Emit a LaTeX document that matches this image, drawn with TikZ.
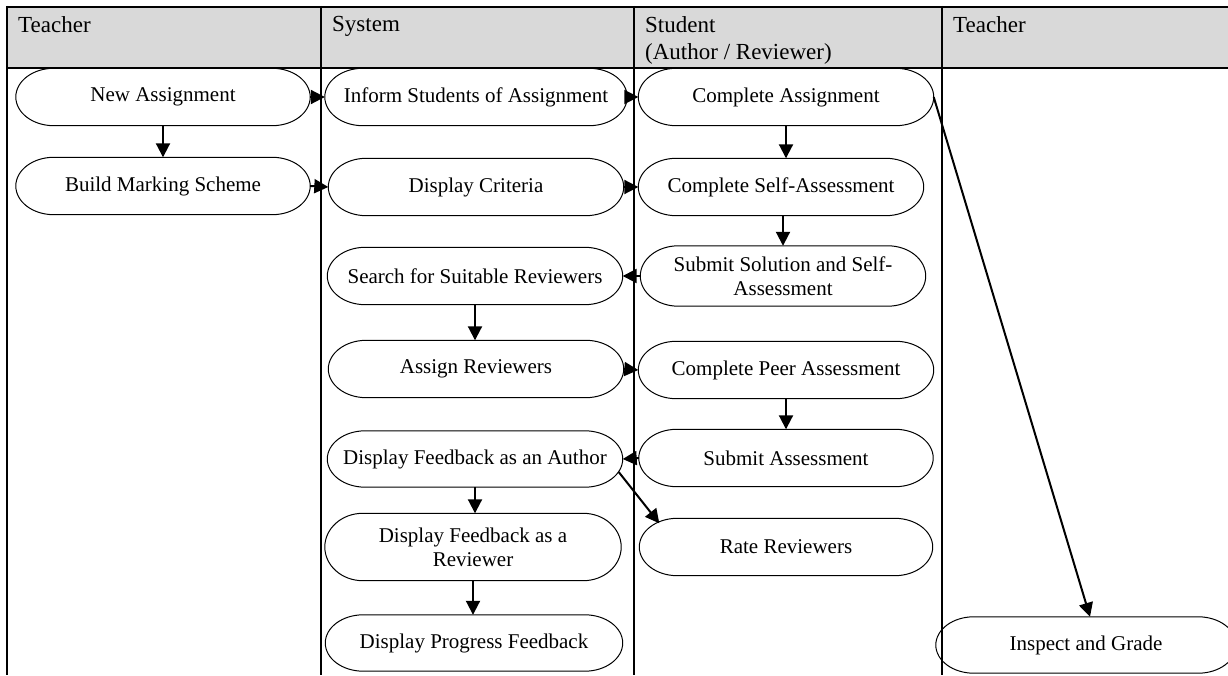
\documentclass[tikz,border=0pt]{standalone}
\usepackage{fontspec}
\setmainfont{Liberation Serif}
\usetikzlibrary{arrows.meta,calc}
\begin{document}
\begin{tikzpicture}[x=1pt,y=1pt,
  stagebox/.style={rectangle, inner sep=0pt, align=center,
    font=\fontsize{21}{24}\selectfont},
  flow/.style={line width=2pt, -{Triangle[length=14pt,width=14pt]}},
  outline/.style={line width=1pt},
  lane/.style={line width=2pt},
  heading/.style={anchor=north west, inner sep=0pt, align=left,
    font=\fontsize{23}{27}\selectfont}]
\useasboundingbox (0,0) rectangle (1228,675);
\clip (0,0) rectangle (1228,675);

% header band of the swimlanes
\fill[gray!30] (7,668) rectangle (1228,607);
\draw[line width=2.5pt] (7,668) -- (1228,668);
\draw[line width=1.5pt] (7,607) -- (1228,607);
\foreach \lx in {7,321,634,942}
  \draw[lane] (\lx,669) -- (\lx,0);

\node[heading] (h1) at (18,659) {Teacher};
\node[heading] (h2) at (332,659) {System};
\node[heading] (h3) at (645,659) {Student\\(Author / Reviewer)};
\node[heading] (h4) at (953,659) {Teacher};

% activities (centre, size)
\node[stagebox, minimum width=294, minimum height=57] (na)  at (163,578) {New Assignment};
\node[stagebox, minimum width=294, minimum height=57] (bms) at (163,489) {Build Marking Scheme};

\node[stagebox, minimum width=302, minimum height=57] (isa) at (476,578) {Inform Students of Assignment};
\node[stagebox, minimum width=295, minimum height=57] (dc)  at (476,488) {Display Criteria};
\node[stagebox, minimum width=295, minimum height=57] (ssr) at (475,399) {Search for Suitable Reviewers};
\node[stagebox, minimum width=295, minimum height=57] (ar)  at (476,306) {Assign Reviewers};
\node[stagebox, minimum width=295, minimum height=56] (dfa) at (475,216) {Display Feedback as an Author};
\node[stagebox, minimum width=296, minimum height=67] (dfr) at (473,128) {Display Feedback as a\\Reviewer};
\node[stagebox, minimum width=297, minimum height=56] (dpf) at (474,32)  {Display Progress Feedback};

\node[stagebox, minimum width=295, minimum height=57] (ca)  at (786,578) {Complete Assignment};
\node[stagebox, minimum width=285, minimum height=57] (csa) at (781,488) {Complete Self-Assessment};
\node[stagebox, minimum width=285, minimum height=60] (sub) at (783,399) {Submit Solution and Self-\\Assessment};
\node[stagebox, minimum width=295, minimum height=57] (cpa) at (786,305) {Complete Peer Assessment};
\node[stagebox, minimum width=294, minimum height=57] (sa)  at (786,217) {Submit Assessment};
\node[stagebox, minimum width=293, minimum height=57] (rr)  at (786,128) {Rate Reviewers};

\node[stagebox, minimum width=300, minimum height=56] (ig)  at (1086,30) {Inspect and Grade};

% stadium outlines with elliptical ends
\def\rx{38pt}
\foreach \nd in {na,bms,isa,dc,ssr,ar,dfa,dfr,dpf,ca,csa,sub,cpa,sa,rr,ig}{
  \draw[outline] let \p1=(\nd.north west), \p2=(\nd.south east),
      \n1={(\y1-\y2)/2} in
    (\x1+\rx,\y1) -- (\x2-\rx,\y1)
    arc[start angle=90, end angle=-90, x radius=\rx, y radius=\n1]
    -- (\x1+\rx,\y2)
    arc[start angle=270, end angle=90, x radius=\rx, y radius=\n1] -- cycle;
}

% control flow
\draw[flow] (na.east) -- (isa.west);
\draw[flow] (na.south) -- (bms.north);
\draw[flow] (bms.east) -- (dc.west);
\draw[flow] (isa.east) -- (ca.west);
\draw[flow] (dc.east) -- (csa.west);
\draw[flow] (ca.south) -- (ca.south |- csa.north);
\draw[flow] (csa.south -| sub.north) -- (sub.north);
\draw[flow] (sub.west) -- (ssr.east);
\draw[flow] (ssr.south) -- (ssr.south |- ar.north);
\draw[flow] (ar.east) -- (cpa.west);
\draw[flow] (cpa.south) -- (cpa.south |- sa.north);
\draw[flow] (sa.west) -- (dfa.east);
\draw[flow] ($(dfa.east)+(-4,-13)$) -- ($(rr.north west)+(20,-5)$);
\draw[flow] (dfa.south) -- (dfa.south |- dfr.north);
\draw[flow] (dfr.south) -- (dfr.south |- dpf.north);
\draw[flow] (ca.east) -- ($(ig.north)+(4,0)$);
\end{tikzpicture}
\end{document}
